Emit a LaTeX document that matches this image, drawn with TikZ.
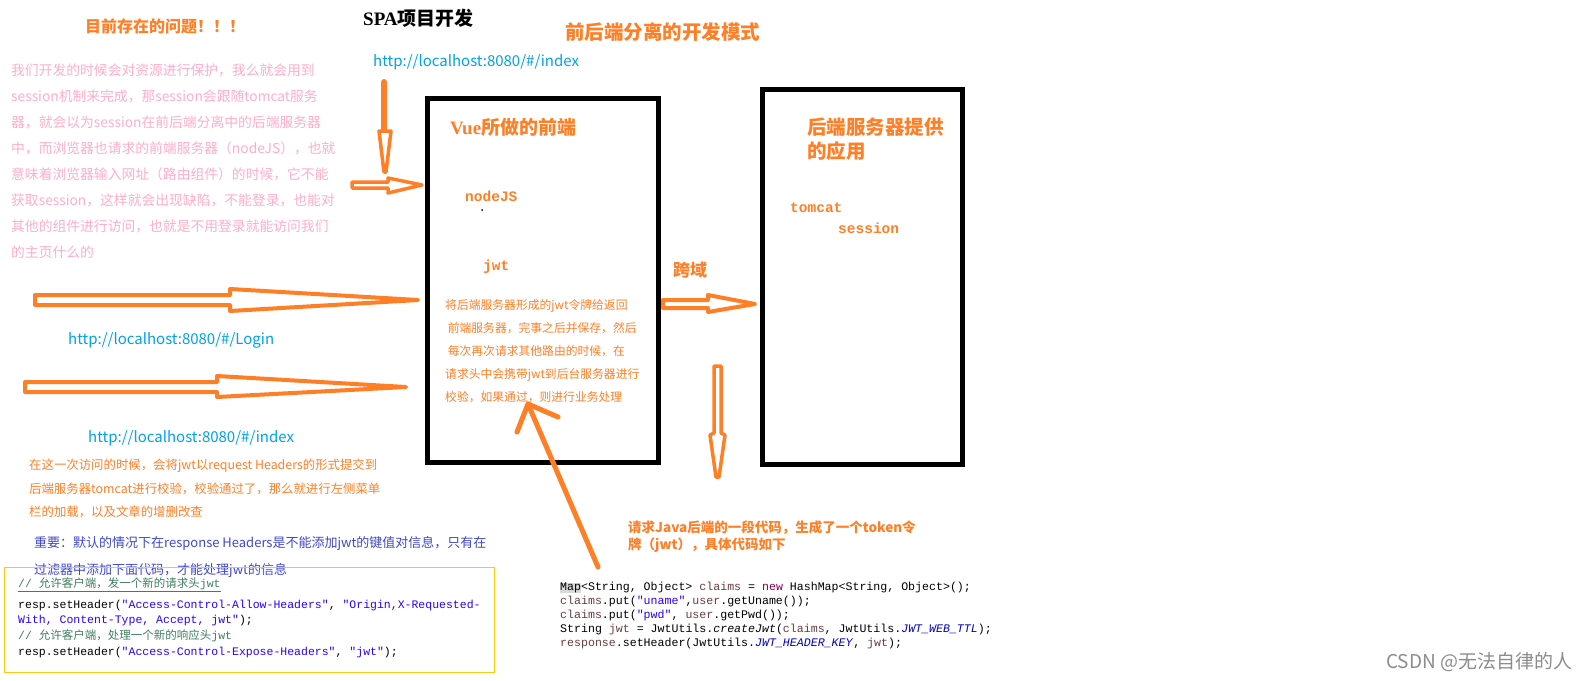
\documentclass[tikz,border=0pt]{standalone}
\usepackage{fontspec}
\setmainfont{Noto Sans CJK SC}
\setmonofont{Liberation Mono}
\newfontfamily\cjk{Noto Sans CJK SC}
\newfontfamily\titleserif{Liberation Serif}
\usepackage{xcolor}
\usetikzlibrary{positioning}
\definecolor{paintorange}{RGB}{255,127,39}
\definecolor{rose}{RGB}{255,174,201}
\definecolor{urlblue}{RGB}{0,162,232}
\definecolor{indigo}{RGB}{63,72,204}
\definecolor{gold}{RGB}{255,201,14}
\definecolor{jstr}{RGB}{42,0,255}
\definecolor{jkw}{RGB}{127,0,85}
\definecolor{jvar}{RGB}{106,62,62}
\definecolor{jfld}{RGB}{0,0,192}
\definecolor{jcom}{RGB}{63,127,95}
\definecolor{wmgrey}{RGB}{140,140,140}

\begin{document}
\begin{tikzpicture}[x=1pt,y=-1pt,
  frame/.style={draw,line width=5pt},
  hollow/.style={draw=paintorange,line width=4pt,line join=round,fill=white},
  stroke/.style={draw=paintorange,line width=5pt,line cap=round,line join=round},
  txt/.style={inner sep=0pt,anchor=west},
  para/.style={inner sep=0pt,anchor=north west,align=left}]
\fill[white] (0,0) rectangle (1594,680);
\useasboundingbox (0,0) rectangle (1594,680);

% titles
\node[txt,paintorange,font=\fontsize{16}{18}\selectfont\bfseries] (problem) at (85,26) {目前存在的问题！！！};
\node[txt,font=\fontsize{19}{21}\selectfont\bfseries] (spa) at (363,18) {{\titleserif SPA}项目开发};
\node[txt,paintorange,font=\fontsize{19.5}{22}\selectfont\bfseries] (mode) at (565,32) {前后端分离的开发模式};
\node[txt,urlblue,font=\fontsize{15}{17}\selectfont] (url1) at (373,62) {http://localhost:8080/\#/index};

% left remark
\node[para,rose,font=\fontsize{13.8}{25.9}\selectfont] (remark) at (11,64) {我们开发的时候会对资源进行保护，我么就会用到\\
session机制来完成，那session会跟随tomcat服务\\
器，就会以为session在前后端分离中的后端服务器\\
中，而浏览器也请求的前端服务器（nodeJS），也就\\
意味着浏览器输入网址（路由组件）的时候，它不能\\
获取session，这样就会出现缺陷，不能登录，也能对\\
其他的组件进行访问，也就是不用登录就能访问我们\\
的主页什么的};

% the two servers
\draw[frame] (427,98) rectangle (658,462);
\draw[frame] (762,89.5) rectangle (962,464);
\node[txt,paintorange,font=\fontsize{19}{22}\selectfont\bfseries] (vue) at (450,127) {{\titleserif Vue}所做的前端};
\node[txt,paintorange,font=\fontsize{14.5}{16}\selectfont\ttfamily\bfseries] (nodejs) at (465,196) {nodeJS};
\fill (482,210) circle (1pt);
\node[txt,paintorange,font=\fontsize{14.5}{16}\selectfont\ttfamily\bfseries] (jwt) at (483,267) {jwt};
\node[para,paintorange,font=\fontsize{11.8}{23.2}\selectfont] (token) at (445,299) {将后端服务器形成的jwt令牌给返回\\
\ 前端服务器，完事之后并保存，然后\\
\ 每次再次请求其他路由的时候，在\\
请求头中会携带jwt到后台服务器进行\\
校验，如果通过，则进行业务处理};
\node[para,paintorange,font=\fontsize{19.5}{24}\selectfont\bfseries] (back) at (807,118) {后端服务器提供\\的应用};
\node[txt,paintorange,font=\fontsize{14.5}{16}\selectfont\ttfamily\bfseries] (tomcat) at (790,208) {tomcat};
\node[txt,paintorange,font=\fontsize{14.5}{16}\selectfont\ttfamily\bfseries] (session) at (838,228) {session};
\node[txt,paintorange,font=\fontsize{17}{19}\selectfont\bfseries] (cross) at (673,270) {跨域};

% hand drawn arrows
\draw[stroke,line width=6pt] (384,82) -- (384,132);
\draw[hollow,line width=3.5pt] (379,131) -- (391,131) -- (386,172) -- (384,172) -- cycle;
\draw[hollow,line width=3.5pt] (352,182) -- (388,182) -- (388,178) -- (422,185) -- (388,193) -- (388,188) -- (352,188) -- cycle;
\draw[hollow] (35,295) -- (230,295) -- (230,289) -- (418,300) -- (230,311) -- (230,305) -- (35,305) -- cycle;
\draw[hollow] (25,382) -- (217,382) -- (217,376) -- (406,387) -- (217,397) -- (217,392) -- (25,392) -- cycle;
\draw[hollow] (663,300) -- (708,300) -- (708,295) -- (755,304) -- (708,312) -- (708,308) -- (663,308) -- cycle;
\draw[hollow,line width=3.5pt] (714,366) -- (721,366) -- (721,433) -- (725,435) -- (719,477) -- (716,477) -- (710,435) -- (714,433) -- cycle;
\draw[stroke] (598,567) -- (528,404);
\draw[stroke] (517,432) -- (528,404) -- (558,417);

% urls and notes on the left
\node[txt,urlblue,font=\fontsize{15}{17}\selectfont] (url2) at (68,340) {http://localhost:8080/\#/Login};
\node[txt,urlblue,font=\fontsize{15}{17}\selectfont] (url3) at (88,438) {http://localhost:8080/\#/index};
\node[para,paintorange,font=\fontsize{12.4}{23.5}\selectfont] (visit) at (29,458.8) {在这一次访问的时候，会将jwt以request Headers的形式提交到\\
后端服务器tomcat进行校验，校验通过了，那么就进行左侧菜单\\
栏的加载，以及文章的增删改查};
\node[para,indigo,font=\fontsize{13}{27}\selectfont] (important) at (34,536.5) {重要：默认的情况下在response Headers是不能添加jwt的键值对信息，只有在\\
过滤器中添加下面代码，才能处理jwt的信息};

% filter code
\draw[gold,line width=1pt] (4,567) rectangle (494,672);
\node[txt,jcom,font=\fontsize{11.5}{13}\selectfont\ttfamily] (com1) at (18,585) {\underline{// {\cjk 允许客户端，发一个新的请求头}jwt}};
\node[para,font=\fontsize{11.5}{15.7}\selectfont\ttfamily] (filter) at (18,599.6) {resp.setHeader(\textcolor{jstr}{"Access-Control-Allow-Headers"}, \textcolor{jstr}{"Origin,X-Requested-}\\
\textcolor{jstr}{With, Content-Type, Accept, jwt"});\\
\textcolor{jcom}{// {\cjk 允许客户端，处理一个新的响应头}jwt}\\
resp.setHeader(\textcolor{jstr}{"Access-Control-Expose-Headers"}, \textcolor{jstr}{"jwt"});};

% java code
\node[para,paintorange,font=\fontsize{13.5}{17}\selectfont\bfseries] (java) at (628,521) {请求Java后端的一段代码，生成了一个token令\\牌（jwt），具体代码如下};
\node[para,font=\fontsize{11.6}{14}\selectfont\ttfamily] (code) at (560,581.6) {{\fboxsep=0pt\colorbox{gray!30}{Map}}<String, Object> \textcolor{jvar}{claims} = \textcolor{jkw}{new} HashMap<String, Object>();\\
\textcolor{jvar}{claims}.put(\textcolor{jstr}{"uname"},\textcolor{jvar}{user}.getUname());\\
\textcolor{jvar}{claims}.put(\textcolor{jstr}{"pwd"}, \textcolor{jvar}{user}.getPwd());\\
String \textcolor{jvar}{jwt} = JwtUtils.\textit{createJwt}(\textcolor{jvar}{claims}, JwtUtils.\textcolor{jfld}{\textit{JWT\_WEB\_TTL}});\\
\textcolor{jvar}{response}.setHeader(JwtUtils.\textcolor{jfld}{\textit{JWT\_HEADER\_KEY}}, \textcolor{jvar}{jwt});};

\node[txt,wmgrey,font=\fontsize{19}{21}\selectfont] (csdn) at (1386,662) {CSDN @无法自律的人};
\end{tikzpicture}
\end{document}
